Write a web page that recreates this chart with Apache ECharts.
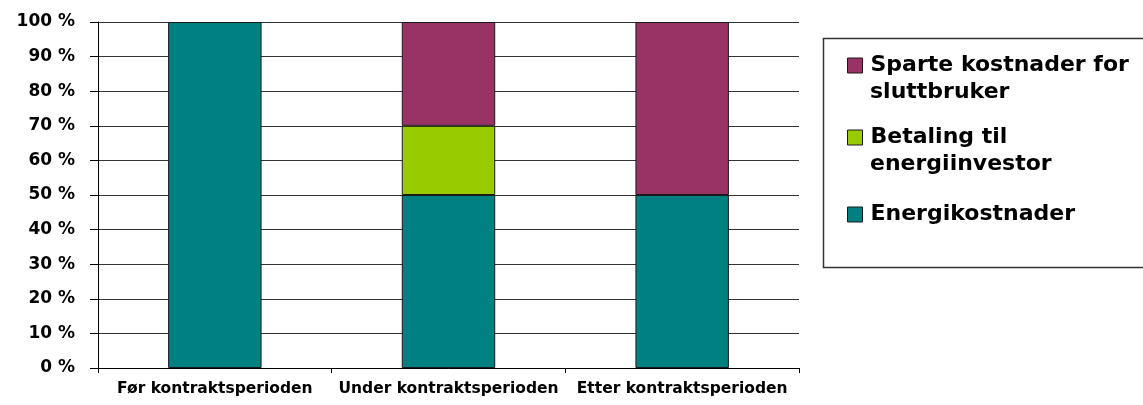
<!DOCTYPE html>
<html>
<head>
<meta charset="utf-8">
<script src="https://cdn.jsdelivr.net/npm/echarts@6/dist/echarts.min.js"></script>
<style>
  html, body { margin: 0; padding: 0; background: #fff; }
  #chart { width: 1143px; height: 405px; }
</style>
</head>
<body>
<div id="chart"></div>
<script>
// Cost shares before, during and after the contract period (percent)
const categories = ['Før kontraktsperioden', 'Under kontraktsperioden', 'Etter kontraktsperioden'];
const energikostnader = [100, 50, 50];
const betaling = [0, 20, 0];
const sparte = [0, 30, 50];
const yTicks = [0, 10, 20, 30, 40, 50, 60, 70, 80, 90, 100];

const names = {
  energi: 'Energikostnader',
  betaling: 'Betaling til\nenergiinvestor',
  sparte: 'Sparte kostnader for\nsluttbruker'
};
const colors = { energi: '#008080', betaling: '#99CC00', sparte: '#993366' };

const font = '"DejaVu Sans", Verdana, sans-serif';
const legendSize = 22;
const legendFont = { fontFamily: font, fontWeight: 'bold', fontSize: legendSize, color: '#000' };
const legendTextX = 870;

function bar(name, data, color) {
  return {
    name: name,
    type: 'bar',
    stack: 'total',
    data: data.map(v => (v === 0 ? null : v)),
    barWidth: '40%',
    itemStyle: { color: color, borderColor: '#1a1a1a', borderWidth: 1 }
  };
}

// one legend block per entry; the swatch sits beside the first line of the label
function legendBlock(name, centerY) {
  return {
    data: [name],
    left: 847,
    top: centerY - 7.5,
    padding: 0,
    itemWidth: 15,
    itemHeight: 15,
    selectedMode: false,
    icon: 'rect',
    itemStyle: { borderColor: '#1a1a1a', borderWidth: 1 },
    formatter: n => n.split('\n')[0],
    textStyle: Object.assign({ padding: [0, 0, 0, 3] }, legendFont)
  };
}

// continuation line of a wrapped legend label
function legendLine(name, centerY) {
  return {
    type: 'text',
    left: legendTextX,
    top: centerY - legendSize / 2 - 1,
    style: { text: name.split('\n')[1], fill: '#000', font: 'bold ' + legendSize + 'px ' + font }
  };
}

const chart = echarts.init(document.getElementById('chart'));
chart.setOption({
  animation: false,
  backgroundColor: '#fff',
  grid: { left: 98, right: 344, top: 22, bottom: 37 },
  xAxis: {
    type: 'category',
    data: categories,
    axisLine: { lineStyle: { color: '#000', width: 1 } },
    axisTick: { show: true, interval: 0, length: 5, lineStyle: { color: '#000' } },
    axisLabel: {
      interval: 0,
      fontFamily: font, fontWeight: 'bold', fontSize: 15.5, color: '#000', margin: 13
    }
  },
  yAxis: {
    type: 'value',
    min: yTicks[0],
    max: yTicks[yTicks.length - 1],
    interval: 10,
    axisLine: { show: true, lineStyle: { color: '#000', width: 1 } },
    axisTick: { show: true, length: 8, inside: false, lineStyle: { color: '#000' } },
    splitLine: { lineStyle: { color: '#333', width: 1 } },
    axisLabel: {
      fontFamily: font, fontWeight: 'bold', fontSize: 17, color: '#000', margin: 23,
      formatter: v => v + ' %'
    }
  },
  legend: [
    legendBlock(names.sparte, 62),
    legendBlock(names.betaling, 134),
    legendBlock(names.energi, 211)
  ],
  graphic: [
    {
      type: 'rect',
      shape: { x: 823.5, y: 38.5, width: 330, height: 229 },
      style: { fill: 'none', stroke: '#333', lineWidth: 1.5 }
    },
    legendLine(names.sparte, 93),
    legendLine(names.betaling, 165)
  ],
  series: [
    bar(names.energi, energikostnader, colors.energi),
    bar(names.betaling, betaling, colors.betaling),
    bar(names.sparte, sparte, colors.sparte)
  ]
});
</script>
</body>
</html>
